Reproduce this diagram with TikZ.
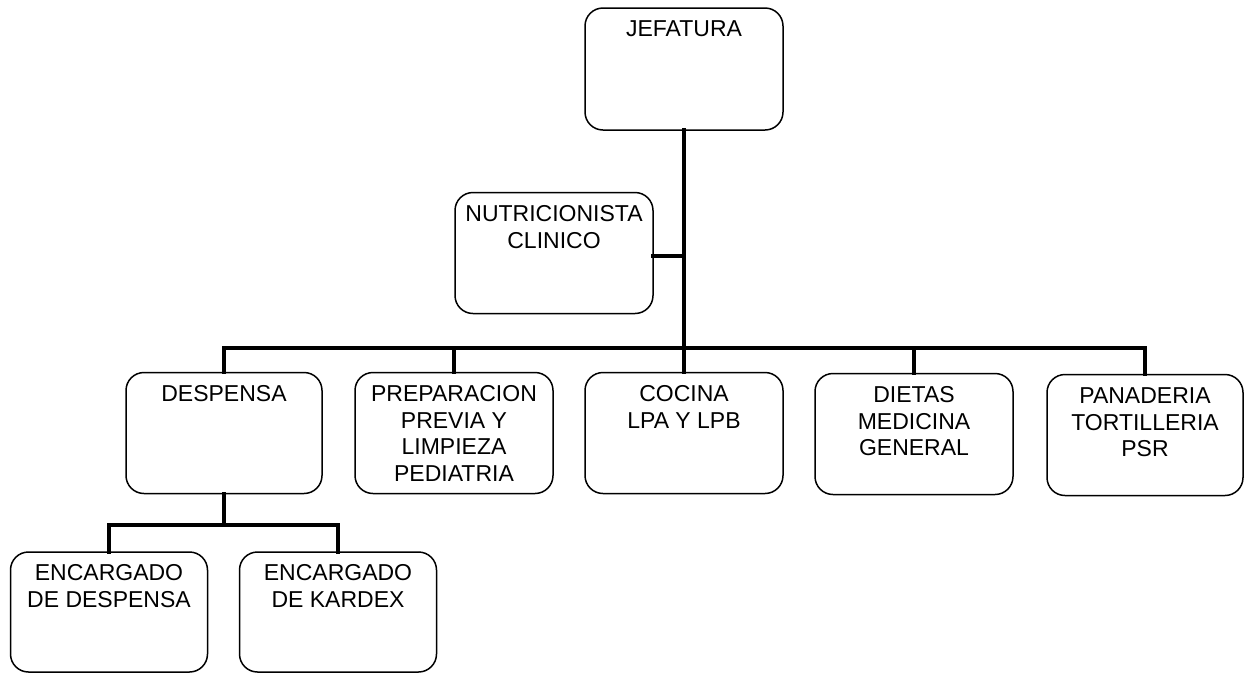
\documentclass[tikz,border=0pt]{standalone}
\usepackage{fontspec}
\setmainfont{Liberation Sans}
\newcommand\orgtext[3]{\parbox[c][#2][t]{#1}{\vspace*{10pt}\centering\strut#3}}
\tikzset{
  orgbox/.style={draw, line width=1.5pt, rounded corners=18pt, inner sep=0pt,
                 font=\fontsize{23}{26.8}\selectfont},
  conn/.style={line width=4.8pt, line cap=rect}
}
\begin{document}
\begin{tikzpicture}[x=1pt, y=-1pt]
  \useasboundingbox (0,0) rectangle (1246,673);

  % top level
  \node[orgbox] (jef) at (684,69) {\orgtext{198pt}{122pt}{JEFATURA}};
  \node[orgbox] (nut) at (554,253) {\orgtext{198pt}{121pt}{NUTRICIONISTA\\CLINICO}};

  % second level
  \node[orgbox] (desp)   at (224,433)  {\orgtext{196pt}{121pt}{DESPENSA}};
  \node[orgbox] (prep)   at (454,433)  {\orgtext{198pt}{121pt}{PREPARACION\\PREVIA Y\\LIMPIEZA\\PEDIATRIA}};
  \node[orgbox] (cocina) at (684,433)  {\orgtext{198pt}{121pt}{COCINA\\LPA Y LPB}};
  \node[orgbox] (dietas) at (914,434)  {\orgtext{198pt}{121pt}{DIETAS\\MEDICINA\\GENERAL}};
  \node[orgbox] (panad)  at (1145,435) {\orgtext{196pt}{121pt}{PANADERIA\\TORTILLERIA\\PSR}};

  % third level
  \node[orgbox] (enc1) at (109,612) {\orgtext{197pt}{120pt}{ENCARGADO\\DE DESPENSA}};
  \node[orgbox] (enc2) at (338,612) {\orgtext{197pt}{120pt}{ENCARGADO\\DE KARDEX}};

  % bus lines
  \coordinate (bus)  at (684,348);
  \coordinate (bus2) at (224,525);

  \draw[conn] (jef.south) -- (cocina.north);
  \draw[conn] ([yshift=-3pt]nut.east) -- ([yshift=-3pt]nut.east -| jef.south);
  \draw[conn] (desp.north) |- (bus) -| (panad.north);
  \draw[conn] (prep.north) -- (prep.north |- bus);
  \draw[conn] (dietas.north) -- (dietas.north |- bus);

  \draw[conn] (desp.south) -- (bus2);
  \draw[conn] (enc1.north) |- (bus2) -| (enc2.north);
\end{tikzpicture}
\end{document}
